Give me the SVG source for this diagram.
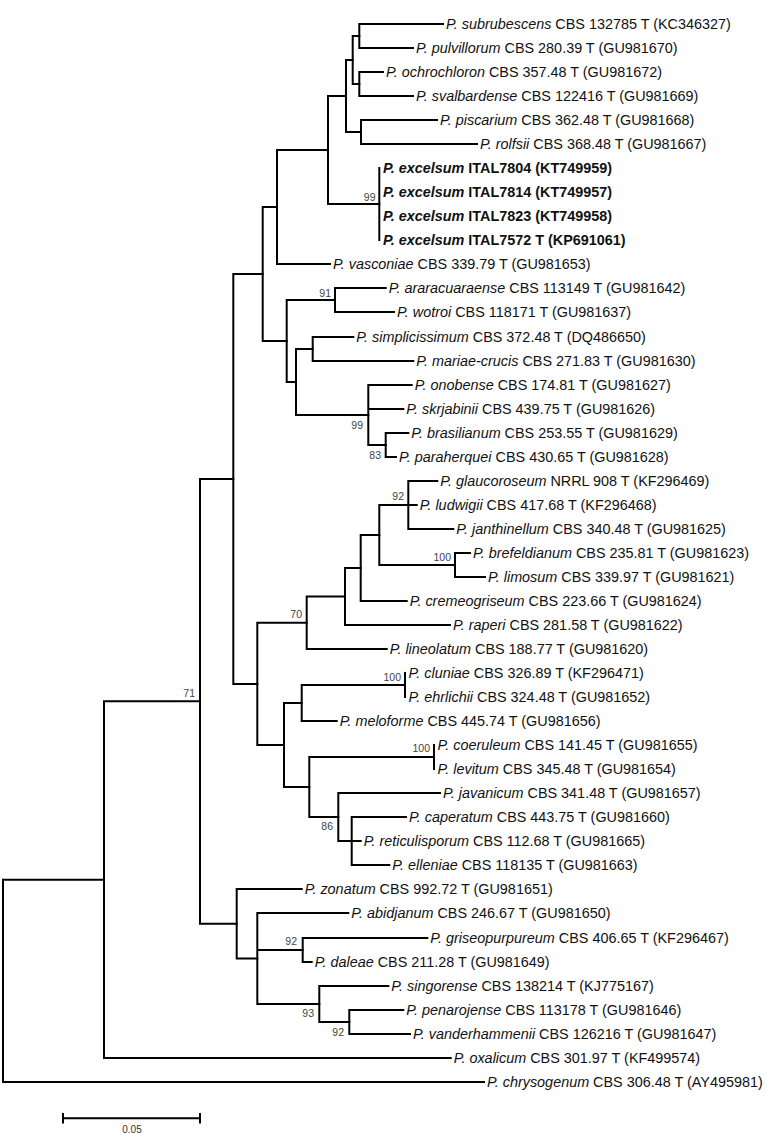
<svg xmlns="http://www.w3.org/2000/svg" width="767" height="1134" viewBox="0 0 767 1134">
<style>
.br{fill:none;stroke:#000;stroke-width:2;stroke-linecap:square;stroke-linejoin:miter}
.lab{font-family:"Liberation Sans",Arial,sans-serif;font-size:14.4px;fill:#111}
.lab tspan.sp{font-style:italic}
.bold{font-weight:bold}
.bs{font-family:"Liberation Sans",Arial,sans-serif;font-size:10.5px;fill:#444;text-anchor:end}
.sc{font-family:"Liberation Sans",Arial,sans-serif;font-size:10px;fill:#333;text-anchor:middle}
</style>
<g id="connectors" class="br">
<path d="M104,879.7 H3 V1082 H484"/>
<path d="M200,701.3 H104 V1058 H450.7"/>
<path d="M233.3,478.9 H200 V923.75 H236.7"/>
<path d="M262.7,274 H233.3 V683.9 H257.3"/>
<path d="M277,207 H262.7 V341 H286.7"/>
<path d="M328,150 H277 V264 H330"/>
<path d="M346,96 H328 V204 H379.3"/>
<path d="M352.7,60 H346 V132 H361"/>
<path d="M359.3,36 H352.7 V84 H359.3"/>
<path d="M443,24 H359.3 V48 H413"/>
<path d="M383,72 H359.3 V96 H413"/>
<path d="M437,120 H361 V144 H477"/>
<path d="M379.3,168 V240"/>
<path d="M335,300 H286.7 V382 H296"/>
<path d="M385.7,288 H335 V312 H394"/>
<path d="M312.7,349 H296 V415 H368.3"/>
<path d="M353.3,337 H312.7 V361 H413.3"/>
<path d="M411.7,385 H368.3 V445 H385.7 M368.3,409 H403.3"/>
<path d="M408.3,433 H385.7 V457 H396"/>
<path d="M306.7,622.75 H257.3 V745 H284"/>
<path d="M345,596.5 H306.7 V649 H386.7"/>
<path d="M360.7,568 H345 V625 H450"/>
<path d="M379.3,535 H360.7 V601 H406.7"/>
<path d="M408.3,505 H379.3 V565 H455"/>
<path d="M437.3,481 H408.3 V529 H453.3 M408.3,505 H416.7"/>
<path d="M470,553 H455 V577 H485"/>
<path d="M301.7,703 H284 V787 H309.3"/>
<path d="M405,685 H301.7 V721 H336.7"/>
<path d="M405,673 V697"/>
<path d="M434,757 H309.3 V817 H338.3"/>
<path d="M434,745 V769"/>
<path d="M440,793 H338.3 V841 H351.7"/>
<path d="M406,817 H351.7 V865 H389.3 M351.7,841 H360.7"/>
<path d="M301.7,889 H236.7 V958.5 H257.3"/>
<path d="M348.3,913 H257.3 V1004 H319.3 M257.3,950 H302.7"/>
<path d="M427.3,938 H302.7 V962 H311.7"/>
<path d="M388.3,986 H319.3 V1022 H349.3"/>
<path d="M403.3,1010 H349.3 V1034 H410"/>
</g>
<g id="taxa">
<g id="t-subrubescens"><text class="lab" x="446" y="29"><tspan class="sp">P. subrubescens</tspan> CBS 132785 T (KC346327)</text></g>
<g id="t-pulvillorum"><text class="lab" x="416" y="53"><tspan class="sp">P. pulvillorum</tspan> CBS 280.39 T (GU981670)</text></g>
<g id="t-ochrochloron"><text class="lab" x="386" y="77"><tspan class="sp">P. ochrochloron</tspan> CBS 357.48 T (GU981672)</text></g>
<g id="t-svalbardense"><text class="lab" x="416" y="101"><tspan class="sp">P. svalbardense</tspan> CBS 122416 T (GU981669)</text></g>
<g id="t-piscarium"><text class="lab" x="440" y="125"><tspan class="sp">P. piscarium</tspan> CBS 362.48 T (GU981668)</text></g>
<g id="t-rolfsii"><text class="lab" x="480" y="149"><tspan class="sp">P. rolfsii</tspan> CBS 368.48 T (GU981667)</text></g>
<g id="t-excelsum-7804"><text class="lab bold" x="383" y="173"><tspan class="sp">P. excelsum</tspan> ITAL7804 (KT749959)</text></g>
<g id="t-excelsum-7814"><text class="lab bold" x="383" y="197"><tspan class="sp">P. excelsum</tspan> ITAL7814 (KT749957)</text></g>
<g id="t-excelsum-7823"><text class="lab bold" x="383" y="221"><tspan class="sp">P. excelsum</tspan> ITAL7823 (KT749958)</text></g>
<g id="t-excelsum-7572"><text class="lab bold" x="383" y="245"><tspan class="sp">P. excelsum</tspan> ITAL7572 T (KP691061)</text></g>
<g id="t-vasconiae"><text class="lab" x="333" y="269"><tspan class="sp">P. vasconiae</tspan> CBS 339.79 T (GU981653)</text></g>
<g id="t-araracuaraense"><text class="lab" x="388.7" y="293"><tspan class="sp">P. araracuaraense</tspan> CBS 113149 T (GU981642)</text></g>
<g id="t-wotroi"><text class="lab" x="397" y="317"><tspan class="sp">P. wotroi</tspan> CBS 118171 T (GU981637)</text></g>
<g id="t-simplicissimum"><text class="lab" x="356.3" y="342"><tspan class="sp">P. simplicissimum</tspan> CBS 372.48 T (DQ486650)</text></g>
<g id="t-mariae-crucis"><text class="lab" x="416.3" y="366"><tspan class="sp">P. mariae-crucis</tspan> CBS 271.83 T (GU981630)</text></g>
<g id="t-onobense"><text class="lab" x="414.7" y="390"><tspan class="sp">P. onobense</tspan> CBS 174.81 T (GU981627)</text></g>
<g id="t-skrjabinii"><text class="lab" x="406.3" y="414"><tspan class="sp">P. skrjabinii</tspan> CBS 439.75 T (GU981626)</text></g>
<g id="t-brasilianum"><text class="lab" x="411.3" y="438"><tspan class="sp">P. brasilianum</tspan> CBS 253.55 T (GU981629)</text></g>
<g id="t-paraherquei"><text class="lab" x="399" y="462"><tspan class="sp">P. paraherquei</tspan> CBS 430.65 T (GU981628)</text></g>
<g id="t-glaucoroseum"><text class="lab" x="440.3" y="486"><tspan class="sp">P. glaucoroseum</tspan> NRRL 908 T (KF296469)</text></g>
<g id="t-ludwigii"><text class="lab" x="419.7" y="510"><tspan class="sp">P. ludwigii</tspan> CBS 417.68 T (KF296468)</text></g>
<g id="t-janthinellum"><text class="lab" x="456.3" y="534"><tspan class="sp">P. janthinellum</tspan> CBS 340.48 T (GU981625)</text></g>
<g id="t-brefeldianum"><text class="lab" x="473" y="558"><tspan class="sp">P. brefeldianum</tspan> CBS 235.81 T (GU981623)</text></g>
<g id="t-limosum"><text class="lab" x="488" y="582"><tspan class="sp">P. limosum</tspan> CBS 339.97 T (GU981621)</text></g>
<g id="t-cremeogriseum"><text class="lab" x="409.7" y="606"><tspan class="sp">P. cremeogriseum</tspan> CBS 223.66 T (GU981624)</text></g>
<g id="t-raperi"><text class="lab" x="453" y="630"><tspan class="sp">P. raperi</tspan> CBS 281.58 T (GU981622)</text></g>
<g id="t-lineolatum"><text class="lab" x="389.7" y="654"><tspan class="sp">P. lineolatum</tspan> CBS 188.77 T (GU981620)</text></g>
<g id="t-cluniae"><text class="lab" x="408.5" y="678"><tspan class="sp">P. cluniae</tspan> CBS 326.89 T (KF296471)</text></g>
<g id="t-ehrlichii"><text class="lab" x="408.5" y="702"><tspan class="sp">P. ehrlichii</tspan> CBS 324.48 T (GU981652)</text></g>
<g id="t-meloforme"><text class="lab" x="339.7" y="726"><tspan class="sp">P. meloforme</tspan> CBS 445.74 T (GU981656)</text></g>
<g id="t-coeruleum"><text class="lab" x="437.5" y="750"><tspan class="sp">P. coeruleum</tspan> CBS 141.45 T (GU981655)</text></g>
<g id="t-levitum"><text class="lab" x="437.5" y="774"><tspan class="sp">P. levitum</tspan> CBS 345.48 T (GU981654)</text></g>
<g id="t-javanicum"><text class="lab" x="443" y="798"><tspan class="sp">P. javanicum</tspan> CBS 341.48 T (GU981657)</text></g>
<g id="t-caperatum"><text class="lab" x="409" y="822"><tspan class="sp">P. caperatum</tspan> CBS 443.75 T (GU981660)</text></g>
<g id="t-reticulisporum"><text class="lab" x="363.7" y="846"><tspan class="sp">P. reticulisporum</tspan> CBS 112.68 T (GU981665)</text></g>
<g id="t-elleniae"><text class="lab" x="392.3" y="870"><tspan class="sp">P. elleniae</tspan> CBS 118135 T (GU981663)</text></g>
<g id="t-zonatum"><text class="lab" x="304.7" y="894"><tspan class="sp">P. zonatum</tspan> CBS 992.72 T (GU981651)</text></g>
<g id="t-abidjanum"><text class="lab" x="351.3" y="918"><tspan class="sp">P. abidjanum</tspan> CBS 246.67 T (GU981650)</text></g>
<g id="t-griseopurpureum"><text class="lab" x="430.3" y="943"><tspan class="sp">P. griseopurpureum</tspan> CBS 406.65 T (KF296467)</text></g>
<g id="t-daleae"><text class="lab" x="314.7" y="967"><tspan class="sp">P. daleae</tspan> CBS 211.28 T (GU981649)</text></g>
<g id="t-singorense"><text class="lab" x="391.3" y="991"><tspan class="sp">P. singorense</tspan> CBS 138214 T (KJ775167)</text></g>
<g id="t-penarojense"><text class="lab" x="406.3" y="1015"><tspan class="sp">P. penarojense</tspan> CBS 113178 T (GU981646)</text></g>
<g id="t-vanderhammenii"><text class="lab" x="413" y="1039"><tspan class="sp">P. vanderhammenii</tspan> CBS 126216 T (GU981647)</text></g>
<g id="t-oxalicum"><text class="lab" x="453.7" y="1063"><tspan class="sp">P. oxalicum</tspan> CBS 301.97 T (KF499574)</text></g>
<g id="t-chrysogenum"><text class="lab" x="487" y="1087"><tspan class="sp">P. chrysogenum</tspan> CBS 306.48 T (AY495981)</text></g>
</g>
<g id="support">
<text class="bs" x="375.5" y="201">99</text>
<text class="bs" x="331" y="297">91</text>
<text class="bs" x="363" y="429">99</text>
<text class="bs" x="381" y="459">83</text>
<text class="bs" x="404" y="500">92</text>
<text class="bs" x="451" y="561">100</text>
<text class="bs" x="302" y="618">70</text>
<text class="bs" x="401" y="681">100</text>
<text class="bs" x="430" y="752">100</text>
<text class="bs" x="333" y="830">86</text>
<text class="bs" x="195" y="697">71</text>
<text class="bs" x="297" y="945">92</text>
<text class="bs" x="314" y="1017">93</text>
<text class="bs" x="344" y="1036">92</text>
</g>
<g id="scale-bar">
<path class="br" d="M63,1118.3 H200 M63,1114 V1122.6 M200,1114 V1122.6" stroke-linecap="butt"/>
<text class="sc" x="132" y="1133">0.05</text>
</g>
</svg>
